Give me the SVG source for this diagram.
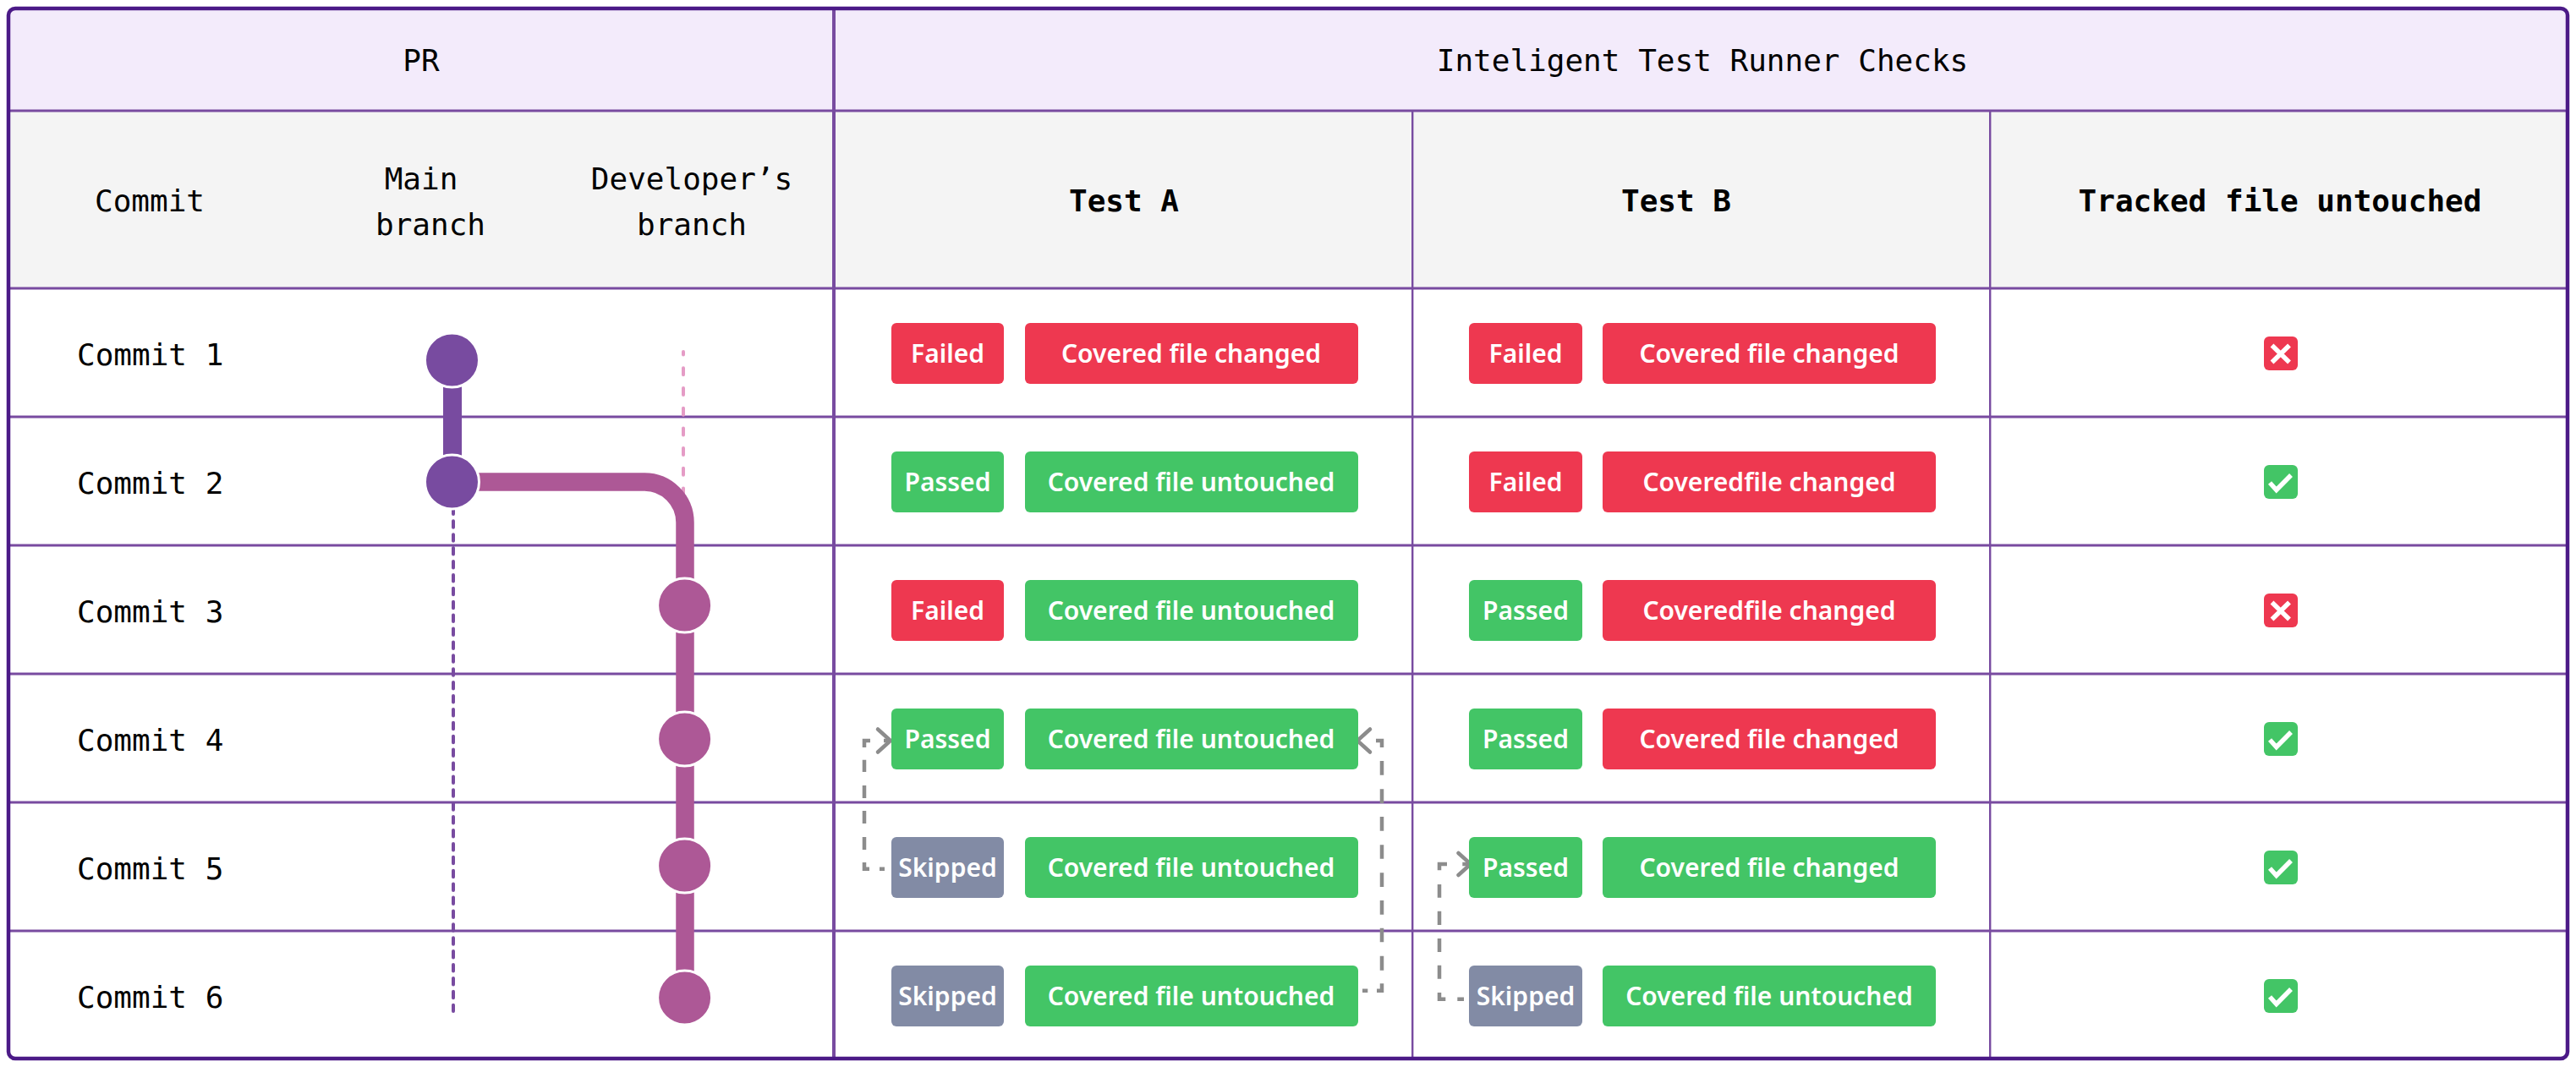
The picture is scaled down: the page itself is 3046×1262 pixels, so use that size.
<svg xmlns="http://www.w3.org/2000/svg" width="3046" height="1262" viewBox="0 0 3046 1262">
<style>
.m{font-family:"DejaVu Sans Mono","Liberation Mono",monospace;font-size:36px;fill:#000}
.c{text-anchor:middle}
.b{font-weight:700}
.t{font-family:"Noto Sans","Open Sans",sans-serif;font-size:30px;font-weight:600;fill:#fff;text-anchor:middle}
.red{fill:#ee3850}.grn{fill:#43c566}.sla{fill:#828ba5}
.hl{stroke:#784ba0;stroke-width:3;fill:none}
.vl{stroke:#784ba0;stroke-width:2.4;fill:none}
.arrow{stroke:#8c8c8c;stroke-width:4.5;fill:none}
.chev{stroke:#8c8c8c;stroke-width:4.5;fill:none;stroke-linecap:round;stroke-linejoin:miter}
.mc{fill:#784ba0;stroke:#fff;stroke-width:3}
.dc{fill:#ad5896;stroke:#fff;stroke-width:3}
.ic{stroke:#fff;stroke-width:5.5;fill:none}
</style>
<rect width="3046" height="1262" fill="#fff"/>
<g id="table">
<rect x="10" y="10" width="3026" height="121" rx="8" fill="#f3ebfb"/>
<rect x="10" y="131" width="3026" height="210" fill="#f4f4f4"/>
<path class="hl" d="M10 131H3036M10 341H3036M10 493H3036M10 645H3036M10 797H3036M10 949H3036M10 1101H3036"/>
<path class="vl" d="M1670.2 131V1252M2353.2 131V1252"/>
<path d="M986 10V1252" stroke="#784ba0" stroke-width="4" fill="none"/>
<rect x="10" y="10" width="3026" height="1242" rx="8" fill="none" stroke="#4b1a87" stroke-width="4.5"/>
</g>
<g id="headers">
<text class="m c" x="498" y="84">PR</text>
<text class="m c" x="2013" y="84">Inteligent Test Runner Checks</text>
<text class="m c" x="177" y="250">Commit</text>
<text class="m c" x="498" y="224">Main</text>
<text class="m c" x="509" y="278">branch</text>
<text class="m c" x="818" y="224">Developer’s</text>
<text class="m c" x="818" y="278">branch</text>
<text class="m c b" x="1329" y="250">Test A</text>
<text class="m c b" x="1982" y="250">Test B</text>
<text class="m c b" x="2696" y="250">Tracked file untouched</text>
</g>
<g id="commit-labels">
<text class="m" x="91" y="432">Commit 1</text>
<text class="m" x="91" y="584">Commit 2</text>
<text class="m" x="91" y="736">Commit 3</text>
<text class="m" x="91" y="888">Commit 4</text>
<text class="m" x="91" y="1040">Commit 5</text>
<text class="m" x="91" y="1192">Commit 6</text>
</g>
<g id="connectors">
<path d="M808 416V584" fill="none" stroke="#e59cc6" stroke-width="4" stroke-linecap="round" stroke-dasharray="8 15.7" stroke-dashoffset="4.4"/>
<path d="M536 601V1196" fill="none" stroke="#784ba0" stroke-width="4" stroke-linecap="round" stroke-dasharray="7.5 8.4" stroke-dashoffset="0.6"/>
<path d="M535 426V570" fill="none" stroke="#784ba0" stroke-width="22"/>
<path d="M534 570H762A48 48 0 0 1 810 618V1180" fill="none" stroke="#ad5896" stroke-width="21.5"/>
<path class="arrow" d="M1046 1027.7H1040M1028 1027.7H1022V1020M1022 1005V990M1022 974V959M1022 944V929M1022 913V898.7M1022 884V876H1029M1045 876H1053"/>
<path class="chev" d="M1038 862.5L1053 876L1038 889.5"/>
<path class="arrow" d="M1611 1171.7H1617.3M1628 1171.7H1634V1163.3M1634 1147.7V1130.7M1634 1114.3V1097.7M1634 1081.7V1065M1634 1049V1032.3M1634 1015.7V999.3M1634 982.7V966M1634 950V933.3M1634 916.7V900M1634 884V876H1627"/>
<path class="chev" d="M1620 862.5L1605 876L1620 889.5"/>
<path class="arrow" d="M1731 1181.7H1723.3M1709.3 1181.7H1702V1174M1702 1157.7V1141.7M1702 1126V1110M1702 1094V1077.7M1702 1061.7V1046M1702 1029.3V1022H1711M1729.3 1022H1739"/>
<path class="chev" d="M1724.5 1009L1739 1022L1724.5 1035"/>
</g>
<g id="commit-dots">
<circle class="mc" cx="534.5" cy="426" r="32"/>
<circle class="mc" cx="534.5" cy="570" r="32"/>
<circle class="dc" cx="809.6" cy="716" r="32"/>
<circle class="dc" cx="809.6" cy="874" r="32"/>
<circle class="dc" cx="809.6" cy="1024" r="32"/>
<circle class="dc" cx="809.6" cy="1180" r="32"/>
</g>
<g id="row-1">
<rect class="red" x="1054" y="382" width="133" height="72" rx="6"/><text class="t" x="1120.5" y="429">Failed</text>
<rect class="red" x="1212" y="382" width="394" height="72" rx="6"/><text class="t" x="1408.5" y="429">Covered file changed</text>
<rect class="red" x="1737" y="382" width="134" height="72" rx="6"/><text class="t" x="1804" y="429">Failed</text>
<rect class="red" x="1895" y="382" width="394" height="72" rx="6"/><text class="t" x="2092" y="429">Covered file changed</text>
<rect class="red" x="2677" y="398" width="40" height="40" rx="6"/><path class="ic" d="M2686.5 408.5L2707 428.5M2707 408.5L2686.5 428.5"/>
</g>
<g id="row-2">
<rect class="grn" x="1054" y="534" width="133" height="72" rx="6"/><text class="t" x="1120.5" y="581">Passed</text>
<rect class="grn" x="1212" y="534" width="394" height="72" rx="6"/><text class="t" x="1408.5" y="581">Covered file untouched</text>
<rect class="red" x="1737" y="534" width="134" height="72" rx="6"/><text class="t" x="1804" y="581">Failed</text>
<rect class="red" x="1895" y="534" width="394" height="72" rx="6"/><text class="t" x="2092" y="581">Coveredfile changed</text>
<rect class="grn" x="2677" y="550" width="40" height="40" rx="6"/><path class="ic" d="M2684 571L2691.7 579.5L2709 562"/>
</g>
<g id="row-3">
<rect class="red" x="1054" y="686" width="133" height="72" rx="6"/><text class="t" x="1120.5" y="733">Failed</text>
<rect class="grn" x="1212" y="686" width="394" height="72" rx="6"/><text class="t" x="1408.5" y="733">Covered file untouched</text>
<rect class="grn" x="1737" y="686" width="134" height="72" rx="6"/><text class="t" x="1804" y="733">Passed</text>
<rect class="red" x="1895" y="686" width="394" height="72" rx="6"/><text class="t" x="2092" y="733">Coveredfile changed</text>
<rect class="red" x="2677" y="702" width="40" height="40" rx="6"/><path class="ic" d="M2686.5 712.5L2707 732.5M2707 712.5L2686.5 732.5"/>
</g>
<g id="row-4">
<rect class="grn" x="1054" y="838" width="133" height="72" rx="6"/><text class="t" x="1120.5" y="885">Passed</text>
<rect class="grn" x="1212" y="838" width="394" height="72" rx="6"/><text class="t" x="1408.5" y="885">Covered file untouched</text>
<rect class="grn" x="1737" y="838" width="134" height="72" rx="6"/><text class="t" x="1804" y="885">Passed</text>
<rect class="red" x="1895" y="838" width="394" height="72" rx="6"/><text class="t" x="2092" y="885">Covered file changed</text>
<rect class="grn" x="2677" y="854" width="40" height="40" rx="6"/><path class="ic" d="M2684 875L2691.7 883.5L2709 866"/>
</g>
<g id="row-5">
<rect class="sla" x="1054" y="990" width="133" height="72" rx="6"/><text class="t" x="1120.5" y="1037">Skipped</text>
<rect class="grn" x="1212" y="990" width="394" height="72" rx="6"/><text class="t" x="1408.5" y="1037">Covered file untouched</text>
<rect class="grn" x="1737" y="990" width="134" height="72" rx="6"/><text class="t" x="1804" y="1037">Passed</text>
<rect class="grn" x="1895" y="990" width="394" height="72" rx="6"/><text class="t" x="2092" y="1037">Covered file changed</text>
<rect class="grn" x="2677" y="1006" width="40" height="40" rx="6"/><path class="ic" d="M2684 1027L2691.7 1035.5L2709 1018"/>
</g>
<g id="row-6">
<rect class="sla" x="1054" y="1142" width="133" height="72" rx="6"/><text class="t" x="1120.5" y="1189">Skipped</text>
<rect class="grn" x="1212" y="1142" width="394" height="72" rx="6"/><text class="t" x="1408.5" y="1189">Covered file untouched</text>
<rect class="sla" x="1737" y="1142" width="134" height="72" rx="6"/><text class="t" x="1804" y="1189">Skipped</text>
<rect class="grn" x="1895" y="1142" width="394" height="72" rx="6"/><text class="t" x="2092" y="1189">Covered file untouched</text>
<rect class="grn" x="2677" y="1158" width="40" height="40" rx="6"/><path class="ic" d="M2684 1179L2691.7 1187.5L2709 1170"/>
</g>
</svg>
